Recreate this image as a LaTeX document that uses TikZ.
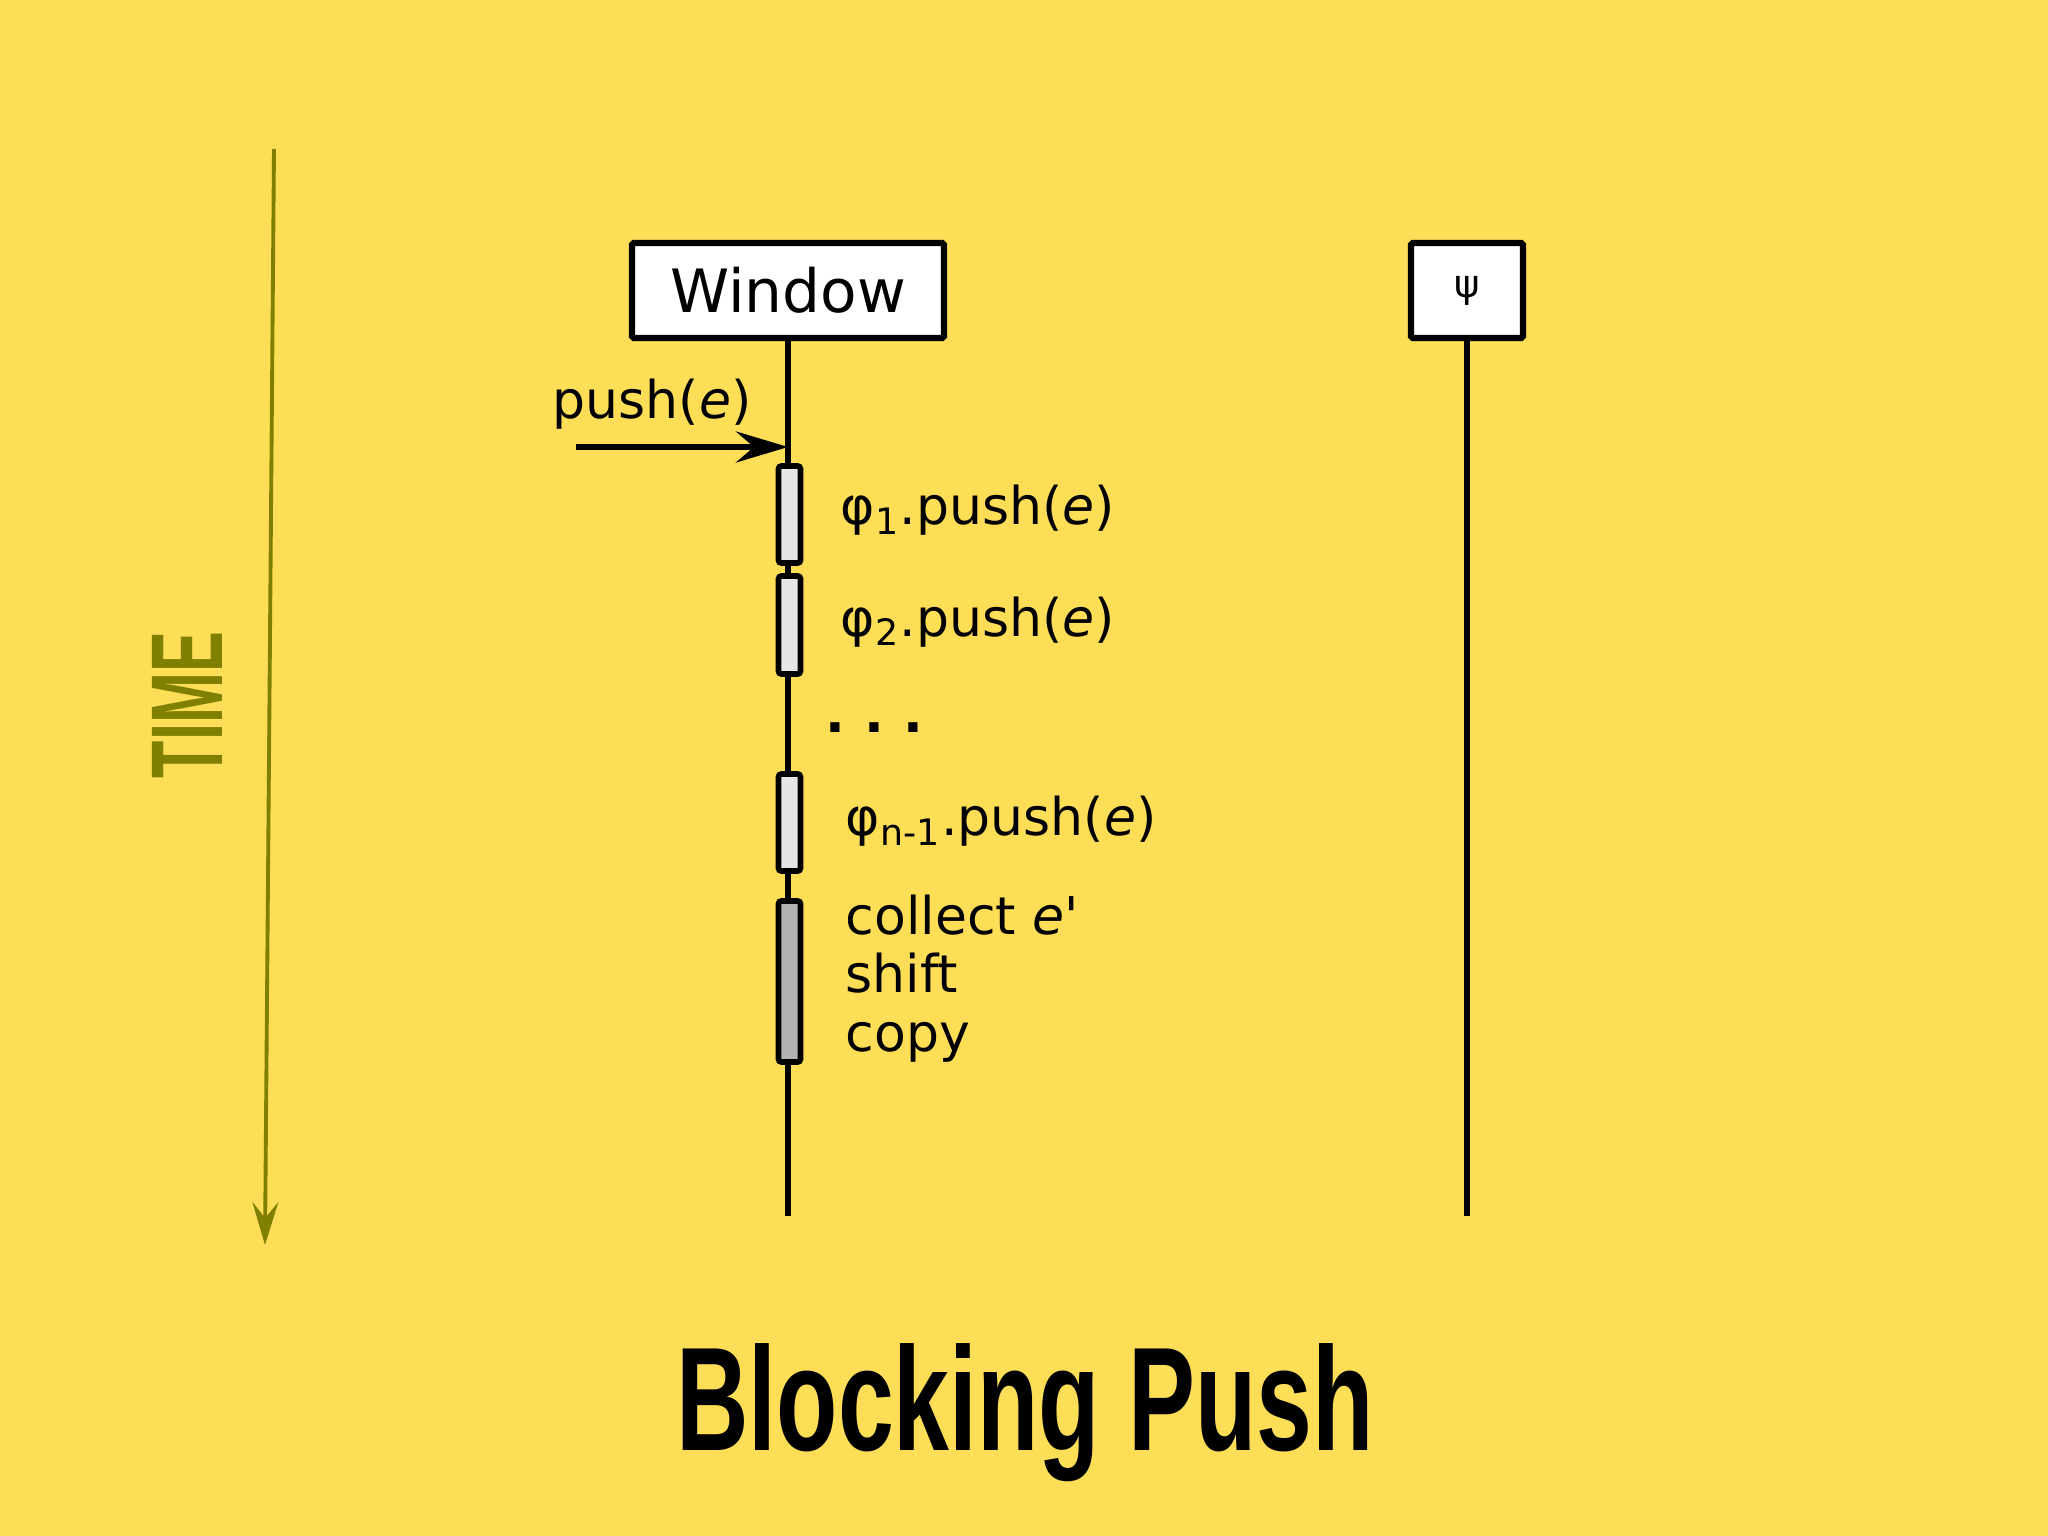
\documentclass[tikz,border=0pt]{standalone}
\usepackage{fontspec}
\setmainfont{DejaVu Sans}[Ligatures=TeXOff]
\newfontfamily\titlefont{Liberation Sans Bold}[FakeStretch=0.68]
\newfontfamily\timefont{Liberation Sans Bold}[FakeStretch=0.6]
\usepackage{tikz}
\usetikzlibrary{arrows.meta,positioning}

\definecolor{bgyellow}{RGB}{254,221,87}
\definecolor{timeolive}{RGB}{128,128,0}
\definecolor{actlight}{RGB}{230,230,230}
\definecolor{actdark}{RGB}{178,178,178}

\tikzset{
  lifebox/.style={draw=black, fill=white, line width=1.8pt, rounded corners=0.5pt, inner sep=0pt},
  actbox/.style={draw=black, fill=actlight, line width=1.6pt, rounded corners=0.8pt,
    minimum width=0.22cm, inner sep=0pt},
  msg/.style={font=\fontsize{14.8}{16.6}\selectfont, anchor=base west, inner sep=0pt, align=left}
}

\begin{document}
\begin{tikzpicture}
% Background
\fill[bgyellow] (0,0) rectangle (20.48,-15.36);
\useasboundingbox (0,0) rectangle (20.48,-15.36);

% Time axis
\coordinate (tstart) at (2.74,-1.49);
\coordinate (tend) at (2.65,-12.45);
\draw[timeolive, line width=1.1pt, -{Stealth[length=4.3mm,width=2.6mm,inset=1.6mm]}] (tstart) -- (tend);
\node[timeolive, rotate=90, font=\timefont\fontsize{29}{29}\selectfont] (time) at (1.87,-7.05) {TIME};

% Lifelines
\node[lifebox, minimum width=3.12cm, minimum height=0.95cm, font=\fontsize{17}{17}\selectfont] (window) at (7.88,-2.905) {Window};
\node[lifebox, minimum width=1.12cm, minimum height=0.95cm, font=\fontsize{11}{11}\selectfont] (psi) at (14.67,-2.905) {ψ};
\coordinate (wend) at (7.88,-12.16);
\coordinate (pend) at (14.67,-12.16);
\draw[line width=1.8pt] (window.south) -- (wend);
\draw[line width=1.8pt] (psi.south) -- (pend);

% Incoming call
\coordinate (pstart) at (5.76,-4.47);
\draw[line width=1.8pt, -{Stealth[length=5.2mm,width=3.1mm,inset=1.8mm]}] (pstart) -- (pstart -| window.south);
\node[msg] (pushlbl) at (5.52,-4.19) {push(\textit{e})};

% Activations
\node[actbox, minimum height=0.97cm] (act1) at (7.895,-5.145) {};
\node[actbox, minimum height=0.98cm] (act2) at (7.895,-6.25) {};
\node[actbox, minimum height=0.97cm] (act3) at (7.895,-8.225) {};
\node[actbox, fill=actdark, minimum height=1.61cm] (act4) at (7.895,-9.815) {};

% Labels
\node[msg] (lbl1) at (8.40,-5.25) {φ\textsubscript{1}.push(\textit{e})};
\node[msg] (lbl2) at (8.40,-6.36) {φ\textsubscript{2}.push(\textit{e})};
\node[msg] (dots) at (8.25,-7.33) {\textbf{.}\hspace{0.19cm}\textbf{.}\hspace{0.19cm}\textbf{.}};
\node[msg] (lbl3) at (8.45,-8.36) {φ\textsubscript{n-1}.push(\textit{e})};
\node[msg] (lbl4) at (8.45,-10.51) {collect \textit{e}'\\shift\\copy};

% Title
\node[anchor=base, inner sep=0pt, font=\titlefont\fontsize{42}{42}\selectfont] (title) at (10.25,-14.5) {Blocking Push};
\end{tikzpicture}
\end{document}
